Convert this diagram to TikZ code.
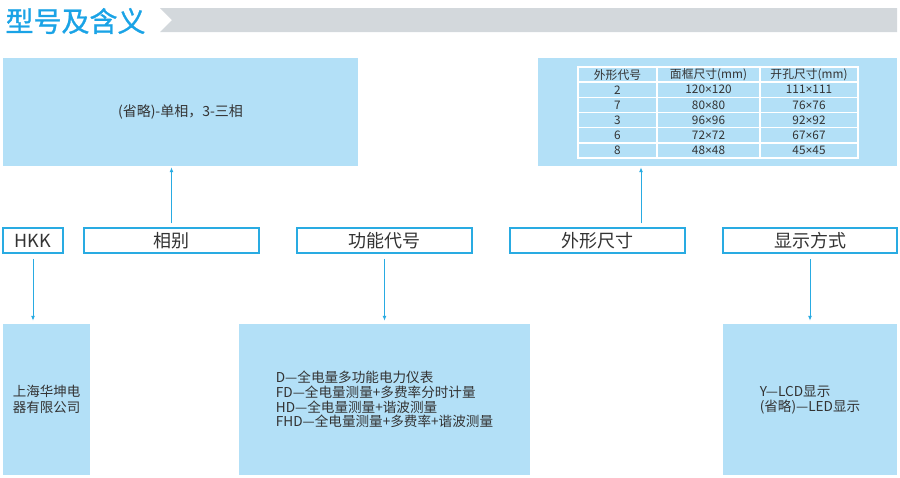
\documentclass[tikz,border=0pt]{standalone}
\usepackage{fontspec}
\setmainfont{Noto Sans CJK SC}
\newfontfamily\latinfont{Liberation Sans}
\newfontfamily\titlefont[FakeBold=1]{Noto Sans CJK SC}
\newcommand\tms{{\latinfont ×}}
\usetikzlibrary{arrows.meta}
\definecolor{titleblue}{HTML}{1AA3E6}
\definecolor{lineblue}{HTML}{29ABE2}
\definecolor{fillblue}{HTML}{B3E0F7}
\definecolor{bandgray}{HTML}{D3D8DC}
\definecolor{textgray}{HTML}{333333}
\tikzset{
  keybox/.style={draw=lineblue, line width=1.5pt, fill=white, minimum height=25,
    inner sep=0pt, text=textgray, font=\fontsize{18}{18}\selectfont},
  infobox/.style={fill=fillblue, inner sep=0pt, text=textgray, align=left},
  celltext/.style={text=textgray, inner sep=0pt, font=\fontsize{11.8}{11.8}\selectfont},
  link/.style={lineblue, line width=1pt, -{Latex[length=5pt,width=4pt]}},
}

\begin{document}
\begin{tikzpicture}[x=1pt, y=-1pt]
  \useasboundingbox (0,0) rectangle (900,477);

  %% 标题
  \node[text=titleblue, font=\fontsize{28}{28}\titlefont] (title) at (75.5,21) {型号及含义};
  \fill[bandgray] (160,8) -- (897,8) -- (897,32) -- (160,32) -- (172,20) -- cycle;

  %% 上排说明框
  \node[infobox, minimum width=355, minimum height=108, font=\fontsize{14}{14}\selectfont]
    (phase) at (180.5,112) {(省略)-单相，3-三相};
  \node[infobox, minimum width=359, minimum height=108] (dims) at (717.5,112) {};

  %% 外形尺寸表：白色格线
  \draw[white, line width=1.5pt] (578,67) rectangle (858,158);
  \foreach \i in {1,...,5}
    \draw[white, line width=1.5pt] (578,{67+15.17*\i}) -- (858,{67+15.17*\i});
  \foreach \x in {657,760}
    \draw[white, line width=1.5pt] (\x,67) -- (\x,158);
  \foreach [count=\i] \a/\b/\c in {外形代号/{面框尺寸(mm)}/{开孔尺寸(mm)},
      2/120\tms120/111\tms111, 7/80\tms80/76\tms76, 3/96\tms96/92\tms92,
      6/72\tms72/67\tms67, 8/48\tms48/45\tms45} {
    \node[celltext] (code\i) at (617.5,{59.4+15.17*\i}) {\a};
    \node[celltext] (frame\i) at (708.5,{59.4+15.17*\i}) {\b};
    \node[celltext] (cut\i) at (809,{59.4+15.17*\i}) {\c};
  }

  %% 中排型号各段
  \node[keybox, minimum width=60] (hkk) at (33,240.5) {HKK};
  \node[keybox, minimum width=175] (phasekey) at (171.5,240.5) {相别};
  \node[keybox, minimum width=175] (func) at (384.5,240.5) {功能代号};
  \node[keybox, minimum width=175] (size) at (597.5,240.5) {外形尺寸};
  \node[keybox, minimum width=174] (disp) at (810,240.5) {显示方式};

  %% 下排说明框
  \node[infobox, minimum width=87, minimum height=151, font=\fontsize{13.5}{16}\selectfont]
    (maker) at (46.5,399.5) {上海华坤电\\器有限公司};
  \node[infobox, minimum width=291, minimum height=151, font=\fontsize{13.6}{14.7}\selectfont]
    (funcinfo) at (384.5,399.5)
    {D—全电量多功能电力仪表\\FD—全电量测量+多费率分时计量\\HD—全电量测量+谐波测量\\FHD—全电量测量+多费率+谐波测量};
  \node[infobox, minimum width=174, minimum height=151, font=\fontsize{13.6}{15}\selectfont]
    (dispinfo) at (810,399.5) {Y—LCD显示\\(省略)—LED显示};

  %% 连线
  \coordinate (sizex) at (641,0);
  \draw[link, shorten <=4pt, shorten >=1pt] (phasekey.north) -- (phasekey.north |- phase.south);
  \draw[link, shorten <=4pt, shorten >=1pt] (size.north -| sizex) -- (sizex |- dims.south);
  \draw[link, shorten <=5pt, shorten >=3pt] (hkk.south) -- (hkk.south |- maker.north);
  \draw[link, shorten <=5pt, shorten >=3pt] (func.south) -- (funcinfo.north);
  \draw[link, shorten <=5pt, shorten >=3pt] (disp.south) -- (dispinfo.north);
\end{tikzpicture}
\end{document}
